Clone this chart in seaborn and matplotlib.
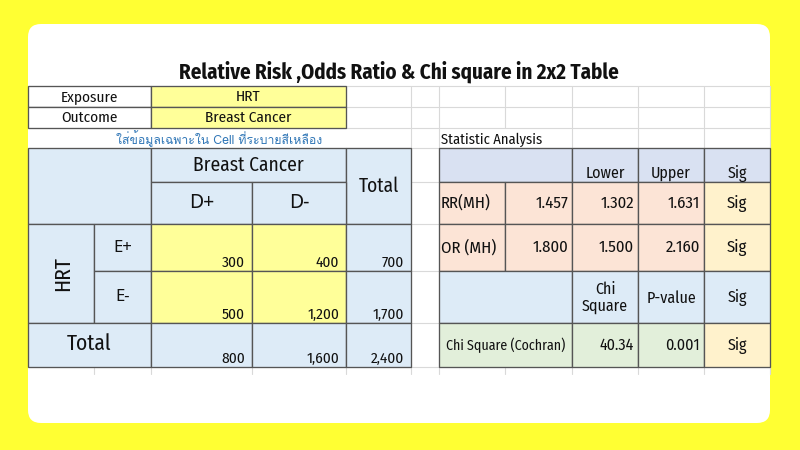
import matplotlib
matplotlib.use("Agg")
import matplotlib.pyplot as plt
from matplotlib.patches import Rectangle, FancyBboxPatch
import seaborn as sns

# ---------------- data ----------------
title = "Relative Risk ,Odds Ratio & Chi square in 2x2 Table"
exposure_name = "HRT"
outcome_name = "Breast Cancer"
note_text = "ใส่ข้อมูลเฉพาะใน Cell ที่ระบายสีเหลือง"
section_label = "Statistic Analysis"
disease_labels = ["D+", "D-"]
exposure_labels = ["E+", "E-"]
counts = [[300, 400], [500, 1200]]
row_totals = [700, 1700]
col_totals = [800, 1600]
grand_total = 2400
ci_headers = ["Lower", "Upper", "Sig"]
stat_names = ["RR(MH)", "OR (MH)"]
stat_estimates = [1.457, 1.800]
stat_lower = [1.302, 1.500]
stat_upper = [1.631, 2.160]
stat_sig = ["Sig", "Sig"]
chi_headers = ["Chi\nSquare", "P-value", "Sig"]
chi_label = "Chi Square (Cochran)"
chi_value = 40.34
p_value = 0.001
chi_sig = "Sig"

# ---------------- style ----------------
sns.set_theme(style="white")
plt.rcParams["font.family"] = ["Fira Sans Condensed", "DejaVu Sans"]
THAI = ["Loma", "Noto Sans Thai", "DejaVu Sans"]
SIGNS = ["Noto Sans", "DejaVu Sans"]

BG = "#FFFF33"
BLUE = "#DDEBF7"
LAV = "#D9E1F2"
YEL = "#FFFF99"
SAL = "#FCE4D6"
CREAM = "#FFF2CC"
GREEN = "#E2EFDA"
BORDER = "#555555"
GRID = "#D9D9D9"
TXT = "#111111"

X = [28, 94, 151, 252, 346, 411, 439, 505, 572, 638, 704, 770]
Y = [24, 86, 107, 128, 148, 182, 224, 271, 323, 367]

fig = plt.figure(figsize=(8, 4.5), dpi=100)
fig.patch.set_facecolor(BG)
ax = fig.add_axes([0, 0, 1, 1])
ax.set_xlim(0, 800)
ax.set_ylim(450, 0)
ax.axis("off")

ax.add_patch(FancyBboxPatch((28, 24), 742, 399,
                            boxstyle="round,pad=0,rounding_size=13",
                            fc="white", ec="none", zorder=0))

# faint spreadsheet gridlines
for y in [86, 107, 128, 148]:
    ax.plot([346, 770], [y, y], color=GRID, lw=0.8, zorder=1)
for x in [411, 439, 572, 638, 704, 770]:
    ax.plot([x, x], [86, 148], color=GRID, lw=0.8, zorder=1)
ax.plot([505, 505], [86, 128], color=GRID, lw=0.8, zorder=1)
for y in [182, 224, 271, 323, 367]:
    ax.plot([411, 439], [y, y], color=GRID, lw=0.8, zorder=1)
for x in X[1:]:
    ax.plot([x, x], [367, 374], color=GRID, lw=0.8, zorder=1)


def cell(x0, x1, y0, y1, fc):
    ax.add_patch(Rectangle((x0, y0), x1 - x0, y1 - y0, fc=fc, ec=BORDER,
                           lw=0.95, zorder=2))


def txt(x, y, s, size, ha="center", va="center", **kw):
    kw.setdefault("color", TXT)
    ax.text(x, y, s, fontsize=size, ha=ha, va=va, zorder=3, **kw)


# title
txt(399, 79, title, 15, va="baseline", fontweight="bold")

# exposure / outcome
cell(X[0], X[2], Y[1], Y[2], "white")
cell(X[2], X[4], Y[1], Y[2], YEL)
cell(X[0], X[2], Y[2], Y[3], "white")
cell(X[2], X[4], Y[2], Y[3], YEL)
txt((X[0] + X[2]) / 2, 97, "Exposure", 11)
txt((X[2] + X[4]) / 2, 97, exposure_name, 11)
txt((X[0] + X[2]) / 2, 118, "Outcome", 11)
txt((X[2] + X[4]) / 2, 118, outcome_name, 11)

txt(219.5, 139, note_text, 8.8, color="#2E75B6", family=THAI)
txt(441, 144, section_label, 10.5, ha="left", va="baseline")

# ---------------- 2x2 table ----------------
cell(X[0], X[2], Y[4], Y[6], BLUE)
cell(X[2], X[4], Y[4], Y[5], BLUE)
txt((X[2] + X[4]) / 2, (Y[4] + Y[5]) / 2, outcome_name, 14)
cell(X[4], X[5], Y[4], Y[6], BLUE)
txt((X[4] + X[5]) / 2, (Y[4] + Y[6]) / 2, "Total", 14)
for j, lab in enumerate(disease_labels):
    cell(X[2 + j], X[3 + j], Y[5], Y[6], BLUE)
    txt((X[2 + j] + X[3 + j]) / 2, (Y[5] + Y[6]) / 2, lab, 14, family=SIGNS)

cell(X[0], X[1], Y[6], Y[8], BLUE)
txt((X[0] + X[1]) / 2 + 2, (Y[6] + Y[8]) / 2, exposure_name, 15.5, rotation=90)
for i, lab in enumerate(exposure_labels):
    y0, y1 = Y[6 + i], Y[7 + i]
    cell(X[1], X[2], y0, y1, BLUE)
    txt((X[1] + X[2]) / 2, (y0 + y1) / 2, lab, 12, family=SIGNS)
    for j in range(2):
        cell(X[2 + j], X[3 + j], y0, y1, YEL)
        txt(X[3 + j] - 7, y1 - 4, f"{counts[i][j]:,}", 11, ha="right", va="baseline")
    cell(X[4], X[5], y0, y1, BLUE)
    txt(X[5] - 7, y1 - 4, f"{row_totals[i]:,}", 11, ha="right", va="baseline")

cell(X[0], X[2], Y[8], Y[9], BLUE)
txt((X[0] + X[2]) / 2, (Y[8] + Y[9]) / 2 - 1, "Total", 15.5)
for j in range(2):
    cell(X[2 + j], X[3 + j], Y[8], Y[9], BLUE)
    txt(X[3 + j] - 7, Y[9] - 4, f"{col_totals[j]:,}", 11, ha="right", va="baseline")
cell(X[4], X[5], Y[8], Y[9], BLUE)
txt(X[5] - 7, Y[9] - 4, f"{grand_total:,}", 11, ha="right", va="baseline")

# ---------------- statistics table ----------------
cell(X[6], X[8], Y[4], Y[5], LAV)
for k, lab in enumerate(ci_headers):
    cell(X[8 + k], X[9 + k], Y[4], Y[5], LAV)
    txt((X[8 + k] + X[9 + k]) / 2, Y[5] - 4, lab, 11.5, va="baseline")

for i, name in enumerate(stat_names):
    y0, y1 = Y[5 + i], Y[6 + i]
    ym = (y0 + y1) / 2
    cell(X[6], X[7], y0, y1, SAL)
    txt(X[6] + 2, ym, name, 12, ha="left")
    vals = [stat_estimates[i], stat_lower[i], stat_upper[i]]
    for k, v in enumerate(vals):
        cell(X[7 + k], X[8 + k], y0, y1, SAL)
        txt(X[8 + k] - 4, ym, f"{v:.3f}", 12, ha="right")
    cell(X[10], X[11], y0, y1, CREAM)
    txt((X[10] + X[11]) / 2, ym, stat_sig[i], 12)

cell(X[6], X[8], Y[7], Y[8], BLUE)
for k, lab in enumerate(chi_headers):
    cell(X[8 + k], X[9 + k], Y[7], Y[8], BLUE)
    txt((X[8 + k] + X[9 + k]) / 2, (Y[7] + Y[8]) / 2 + 1, lab, 11.5,
        linespacing=1.05)

ym = (Y[8] + Y[9]) / 2
cell(X[6], X[8], Y[8], Y[9], GREEN)
txt((X[6] + X[8]) / 2, ym, chi_label, 10)
cell(X[8], X[9], Y[8], Y[9], GREEN)
txt(X[9] - 4, ym, f"{chi_value:.2f}", 11.5, ha="right")
cell(X[9], X[10], Y[8], Y[9], GREEN)
txt(X[10] - 4, ym, f"{p_value:.3f}", 11.5, ha="right")
cell(X[10], X[11], Y[8], Y[9], CREAM)
txt((X[10] + X[11]) / 2, ym, chi_sig, 11.5)

fig.savefig("out.png", dpi=100, facecolor=BG)
